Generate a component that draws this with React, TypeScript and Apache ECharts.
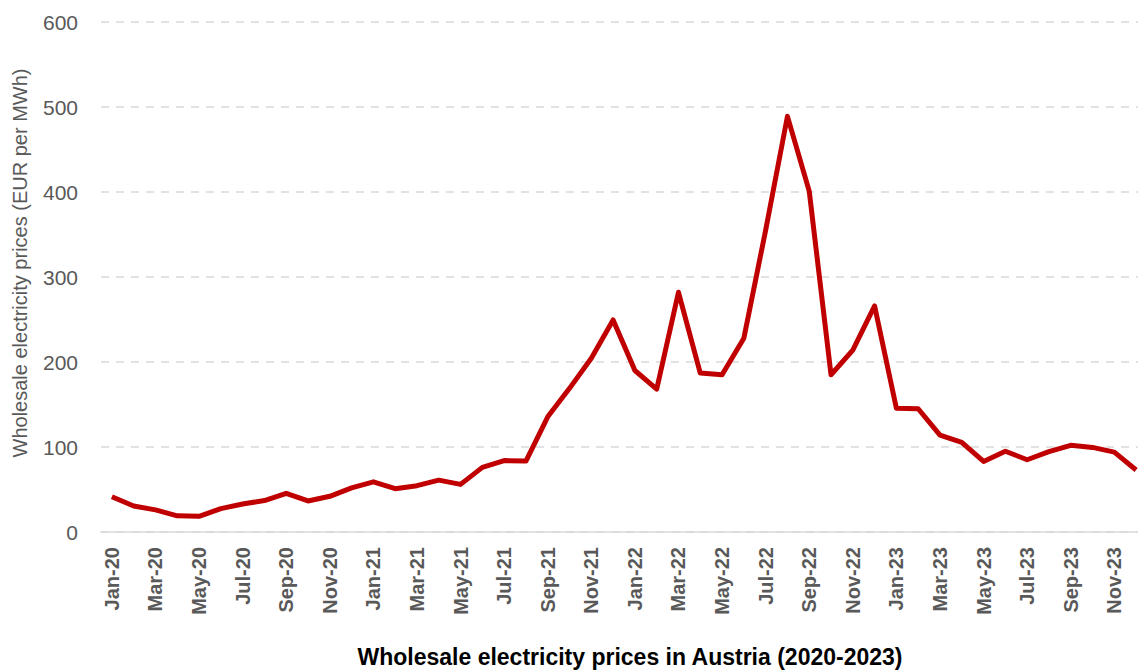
import React, { useEffect, useRef } from "react";
import * as echarts from "echarts";

const months = ["Jan", "Feb", "Mar", "Apr", "May", "Jun", "Jul", "Aug", "Sep", "Oct", "Nov", "Dec"];
const years = ["20", "21", "22", "23"];
const categories: string[] = [];
years.forEach((y) => months.forEach((m) => categories.push(`${m}-${y}`)));

const prices2020 = [41.5, 30.5, 26, 19, 18.5, 27.5, 33, 37, 45.5, 36.5, 42, 52];
const prices2021 = [59, 51, 54.5, 61, 56, 76, 84, 83.5, 135.5, 169, 204.5, 249.5];
const prices2022 = [190, 168, 282, 187, 185, 228, 355, 489, 401, 185, 214, 266];
const prices2023 = [145.5, 145, 114, 105.5, 83, 95, 85, 94.5, 102, 99.5, 94, 73];
const prices = [...prices2020, ...prices2021, ...prices2022, ...prices2023];

const yTicks = [0, 100, 200, 300, 400, 500, 600];

const chartTitle = "Wholesale electricity prices in Austria (2020-2023)";
const yAxisTitle = "Wholesale electricity prices (EUR per MWh)";

export default function App() {
  const ref = useRef<HTMLDivElement>(null);
  useEffect(() => {
    if (!ref.current) return;
    const chart = echarts.init(ref.current, undefined, { renderer: "svg" });
    const font = "'Liberation Sans', 'Open Sans', sans-serif";
    chart.setOption({
      animation: false,
      backgroundColor: "#ffffff",
      grid: { left: 101, right: 0, top: 22, bottom: 139, containLabel: false },
      xAxis: {
        type: "category",
        data: categories,
        boundaryGap: true,
        axisLine: { show: true, lineStyle: { color: "#d9d9d9", width: 1.5 } },
        axisTick: { show: false },
        axisLabel: {
          interval: 1,
          rotate: 90,
          margin: 15,
          fontSize: 20,
          fontWeight: "bold",
          color: "#595959",
          fontFamily: font,
        },
        splitLine: { show: false },
      },
      yAxis: {
        type: "value",
        min: yTicks[0],
        max: yTicks[yTicks.length - 1],
        interval: 100,
        axisLine: { show: false },
        axisTick: { show: false },
        axisLabel: { fontSize: 21, color: "#595959", margin: 23, fontFamily: font },
        splitLine: { show: true, lineStyle: { color: "#d9d9d9", width: 1.5, type: [8, 7] } },
      },
      series: [
        {
          type: "line",
          data: prices,
          symbol: "none",
          lineStyle: { color: "#c00000", width: 5, join: "round" },
          itemStyle: { color: "#c00000" },
        },
      ],
      graphic: [
        {
          type: "text",
          x: 630,
          y: 657,
          style: {
            text: chartTitle,
            font: `bold 23px ${font}`,
            fill: "#000000",
            textAlign: "center",
            textVerticalAlign: "middle",
          },
        },
        {
          type: "text",
          x: 20,
          y: 263,
          rotation: Math.PI / 2,
          style: {
            text: yAxisTitle,
            font: `20px ${font}`,
            fill: "#595959",
            textAlign: "center",
            textVerticalAlign: "middle",
          },
        },
      ],
    });
    return () => chart.dispose();
  }, []);
  return (
    <div
      ref={ref}
      style={{ position: "fixed", left: 0, top: 0, width: 1147, height: 671, background: "#fff" }}
    />
  );
}
